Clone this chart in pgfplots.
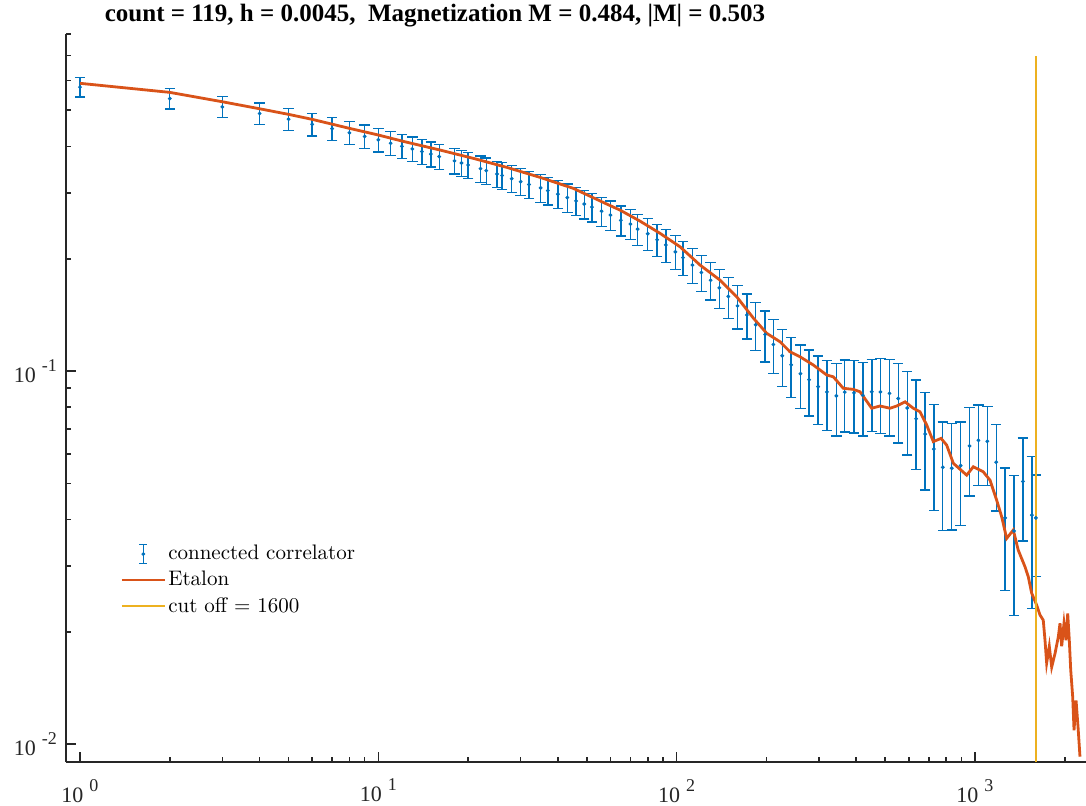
\documentclass[border=0pt]{standalone}
\usepackage{fontspec}
\usepackage{pgfplots}
\usepackage{pgfplotstable}
\pgfplotsset{compat=1.18}
\newfontfamily\tnr{Liberation Serif}
\definecolor{mblue}{HTML}{0072BD}
\definecolor{morange}{HTML}{D95319}
\definecolor{myellow}{HTML}{EDB120}
\definecolor{axgray}{HTML}{262626}
\newcommand{\pw}[1]{{\tnr\fontsize{11}{11}\selectfont 10\hspace{3pt}\raisebox{5.5pt}{\fontsize{9}{9}\selectfont #1}}}
\pgfplotsset{
  shortline/.style={legend image code/.code={\draw[##1] (0pt,0pt) -- (21.5pt,0pt);}},
  errlegend/.style={legend image code/.code={%
    \draw[mblue, line width=0.7pt] (10.75pt,-4.8pt) -- (10.75pt,4.8pt)
      (8.75pt,-4.8pt) -- (12.75pt,-4.8pt) (8.75pt,4.8pt) -- (12.75pt,4.8pt);
    \fill[mblue] (10.75pt,0pt) circle (0.75pt);}},
}

\pgfplotstableread{
x y e
1 0.5765 0.0343
2 0.5372 0.0336
3 0.5102 0.0330
4 0.4898 0.0327
5 0.4730 0.0315
6 0.4583 0.0320
7 0.4462 0.0311
8 0.4348 0.0308
9 0.4252 0.0311
10 0.4166 0.0304
11 0.4077 0.0302
12 0.4002 0.0296
13 0.3938 0.0300
14 0.3874 0.0294
15 0.3815 0.0294
16 0.3756 0.0289
18 0.3657 0.0285
19 0.3609 0.0284
20 0.3565 0.0281
22 0.3486 0.0282
23 0.3443 0.0279
25 0.3373 0.0274
26 0.3342 0.0274
28 0.3277 0.0273
30 0.3217 0.0268
32 0.3162 0.0267
35 0.3095 0.0263
37 0.3045 0.0260
40 0.2979 0.0257
43 0.2916 0.0254
46 0.2857 0.0250
49 0.2802 0.0248
52 0.2750 0.0243
56 0.2681 0.0239
60 0.2618 0.0236
65 0.2534 0.0234
70 0.2477 0.0229
74 0.2401 0.0229
80 0.2333 0.0227
86 0.2248 0.0224
92 0.2177 0.0221
99 0.2086 0.0218
105 0.2013 0.0213
113 0.1923 0.0209
121 0.1837 0.0206
130 0.1751 0.0201
139 0.1671 0.0202
149 0.1584 0.0200
160 0.1495 0.0199
172 0.1413 0.0195
184 0.1330 0.0194
198 0.1253 0.0196
211 0.1178 0.0194
226 0.1099 0.0191
242 0.1039 0.0189
260 0.0984 0.0190
278 0.0948 0.0190
298 0.0908 0.0189
319 0.0879 0.0187
343 0.0858 0.0188
366 0.0878 0.0192
393 0.0874 0.0192
421 0.0861 0.0192
451 0.0880 0.0192
482 0.0879 0.0200
517 0.0871 0.0201
553 0.0844 0.0202
593 0.0796 0.0200
635 0.0745 0.0201
681 0.0678 0.0198
728 0.0618 0.0195
780 0.0552 0.0178
836 0.0549 0.0174
895 0.0558 0.0172
959 0.0630 0.0168
1027 0.0652 0.0158
1100 0.0648 0.0154
1178 0.0570 0.0148
1262 0.0404 0.0146
1352 0.0373 0.0152
1448 0.0506 0.0156
1551 0.0411 0.0180
1600 0.0404 0.0123
}\corr

\pgfplotstableread{
x y
1 0.5902
2 0.5581
3 0.5267
4 0.5044
5 0.4873
6 0.4725
8 0.4470
10 0.4290
12 0.4133
16.09 0.3911
20.82 0.3715
26.94 0.3514
34.83 0.3304
45.03 0.3087
58.30 0.2802
64.58 0.2700
75.37 0.2522
87.95 0.2339
102.6 0.2153
119.8 0.1923
139.7 0.1753
159.0 0.1581
180.7 0.1387
200.4 0.1262
222.1 0.1198
239.9 0.1126
259.1 0.1092
287.1 0.1038
318.4 0.0976
335.1 0.0965
361.9 0.0899
390.9 0.0893
411.7 0.0880
450.6 0.0795
480.4 0.0806
519.0 0.0795
546.6 0.0806
582.7 0.0827
621.2 0.0795
654.2 0.0778
688.9 0.0717
725.0 0.0647
770.0 0.0660
803.9 0.0633
846.0 0.0566
938.0 0.0526
987.2 0.0554
1066 0.0537
1123 0.0510
1182 0.0451
1229 0.0407
1277 0.0356
1344 0.0375
1397 0.0331
1471 0.0299
1509 0.0281
1549 0.0254
1610 0.0236
1652 0.0222
1694 0.0215
1717 0.0190
1739 0.0165
1775 0.0183
1808 0.0161
1855 0.0175
1903 0.0194
1928 0.0211
1953 0.0183
1988 0.0211
2019 0.0190
2046 0.0224
2071 0.0190
2094 0.0158
2126 0.0134
2148 0.0109
2182 0.0131
2216 0.0111
2249 0.00926
}\etalon

\begin{document}
\begin{tikzpicture}
\begin{axis}[
  scale only axis, width=510pt, height=364pt,
  xmode=log, ymode=log,
  xmin=0.8976, xmax=2356, ymin=0.00896, ymax=0.8,
  axis x line*=bottom, axis y line*=left,
  axis line style={axgray, line width=0.8pt},
  tick align=inside,
  major tick length=5pt, minor tick length=2.5pt,
  every tick/.style={axgray, line width=0.8pt},
  xtick={1,10,100,1000},
  xticklabels={\pw{0},\pw{1},\pw{2},\pw{3}},
  minor xtick={2,3,4,5,6,7,8,9,20,30,40,50,60,70,80,90,200,300,400,500,600,700,800,900,2000},
  ytick={0.01,0.1},
  yticklabels={\pw{-2},\pw{-1}},
  minor ytick={0.02,0.03,0.04,0.05,0.06,0.07,0.08,0.09,0.2,0.3,0.4,0.5,0.6,0.7,0.8},
  xticklabel style={yshift=-5pt, text=axgray},
  yticklabel style={xshift=-1pt, text=axgray},
  every axis title/.style={at={(0.3618,1)}, anchor=base, yshift=6.5pt},
  title={count = 119, h = 0.0045,\ \ Magnetization M = 0.484, |M| = 0.503},
  title style={font=\tnr\bfseries\fontsize{12.5}{12.5}\selectfont},
  legend cell align=left,
  legend style={draw=none, fill=none, inner sep=0pt, at={(0.053,0.301)}, anchor=north west,
    font=\fontsize{10.5}{12}\selectfont, row sep=2.2pt, nodes={inner sep=1pt}},
]
\addplot[mblue, only marks, mark=*, mark size=0.75pt, errlegend,
  error bars/.cd, y dir=both, y explicit,
  error bar style={line width=0.7pt, mblue},
  error mark options={rotate=90, mblue, line width=0.7pt, mark size=2.6pt}]
  table[x=x, y=y, y error=e]{\corr};
\addlegendentry{connected correlator}
\addplot[morange, line width=1.4pt, shortline] table[x=x, y=y]{\etalon};
\addlegendentry{Etalon}
\addplot[myellow, line width=0.65pt, shortline] coordinates {(1600,0.00896) (1600,0.7)};
\addlegendentry{cut off = 1600}
\end{axis}
\pgfresetboundingbox
\path (-33pt,-21.5pt) rectangle (510pt,381pt);
\end{tikzpicture}
\end{document}
